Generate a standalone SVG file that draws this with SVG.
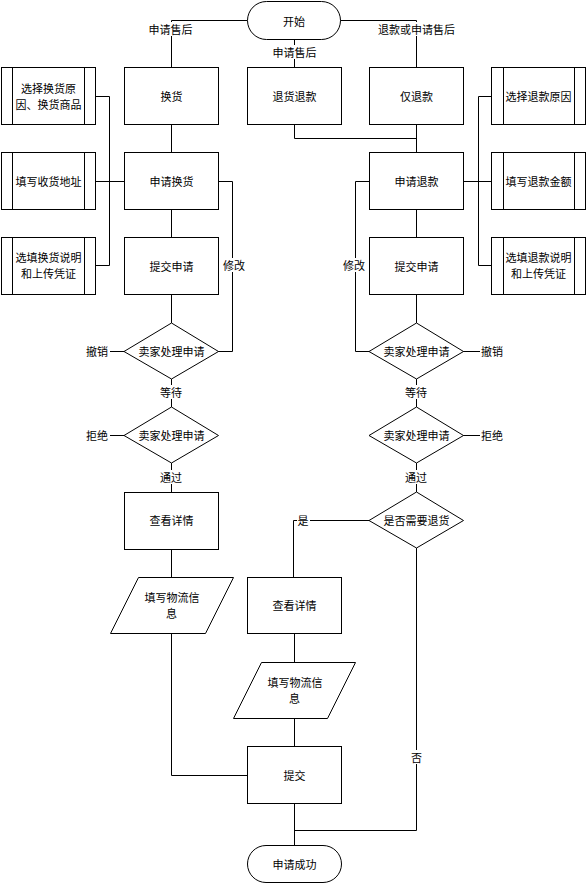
<svg xmlns="http://www.w3.org/2000/svg" width="587" height="884" viewBox="0 0 587 884">
<style>
.s{fill:#fff;stroke:#000;stroke-width:1}
.c{fill:none;stroke:#000;stroke-width:1}
.t{font-family:"Noto Sans CJK SC","Liberation Sans",sans-serif;font-size:11px;fill:#000;text-anchor:middle;dominant-baseline:central}
.bg{fill:#fff}
</style>
<rect width="587" height="884" fill="#fff"/>
<g id="connectors">
<path class="c" d="M247.5,20.5H171.5V67"/>
<path class="c" d="M294.5,39V67"/>
<path class="c" d="M340,20.5H416.5V67"/>
<path class="c" d="M171.5,124V152"/>
<path class="c" d="M294.5,124V138.5H416.5"/>
<path class="c" d="M416.5,124V152"/>
<path class="c" d="M95,96.5H109.5V265.5H95M95,181.5H124"/>
<path class="c" d="M491,96.5H478.5V265.5H491M491,181.5H463"/>
<path class="c" d="M171.5,209V237"/>
<path class="c" d="M416.5,209V237"/>
<path class="c" d="M218,181.5H232.5V351.5H218"/>
<path class="c" d="M369,181.5H355.5V351.5H369"/>
<path class="c" d="M171.5,294V323"/>
<path class="c" d="M416.5,294V323"/>
<path class="c" d="M110,351.5H124"/>
<path class="c" d="M463,351.5H480"/>
<path class="c" d="M171.5,379V407"/>
<path class="c" d="M416.5,379V407"/>
<path class="c" d="M110,435.5H124"/>
<path class="c" d="M463,435.5H480"/>
<path class="c" d="M171.5,463V492"/>
<path class="c" d="M416.5,463V492"/>
<path class="c" d="M171.5,549V577"/>
<path class="c" d="M171.5,633V775.5H247"/>
<path class="c" d="M369,520.5H293.5V577"/>
<path class="c" d="M294.5,633V662"/>
<path class="c" d="M294.5,718V746"/>
<path class="c" d="M294.5,803V845"/>
<path class="c" d="M416.5,548V830.5H294.5"/>
<rect class="bg" x="148" y="22" width="45" height="14"/>
<text class="t" x="170.5" y="29">申请售后</text>
<rect class="bg" x="272" y="45" width="45" height="14"/>
<text class="t" x="294.5" y="52">申请售后</text>
<rect class="bg" x="377" y="22" width="79" height="14"/>
<text class="t" x="416.5" y="29">退款或申请售后</text>
<rect class="bg" x="222" y="258" width="24" height="14"/>
<text class="t" x="234" y="265">修改</text>
<rect class="bg" x="342" y="258" width="24" height="14"/>
<text class="t" x="354" y="265">修改</text>
<text class="t" x="97" y="351">撤销</text>
<text class="t" x="492" y="351">撤销</text>
<rect class="bg" x="159" y="385" width="24" height="14"/>
<text class="t" x="171" y="392">等待</text>
<rect class="bg" x="404" y="385" width="24" height="14"/>
<text class="t" x="416" y="392">等待</text>
<text class="t" x="97" y="435">拒绝</text>
<text class="t" x="492" y="435">拒绝</text>
<rect class="bg" x="159" y="470" width="24" height="14"/>
<text class="t" x="171" y="477">通过</text>
<rect class="bg" x="404" y="470" width="24" height="14"/>
<text class="t" x="416" y="477">通过</text>
<rect class="bg" x="297" y="513" width="13" height="14"/>
<text class="t" x="303" y="520">是</text>
<rect class="bg" x="410" y="750" width="13" height="14"/>
<text class="t" x="416.5" y="757">否</text>
</g>
<g id="start"><rect class="s" x="247.5" y="1.5" width="93" height="38" rx="19"/><text class="t" x="294" y="20.5">开始</text></g>
<g id="huanhuo"><rect class="s" x="124.5" y="67.5" width="94" height="57"/><text class="t" x="171.5" y="96">换货</text></g>
<g id="tuihuotuikuan"><rect class="s" x="247.5" y="67.5" width="94" height="57"/><text class="t" x="294.5" y="96">退货退款</text></g>
<g id="jintuikuan"><rect class="s" x="369.5" y="67.5" width="94" height="57"/><text class="t" x="416.5" y="96">仅退款</text></g>
<g id="l1"><rect class="s" x="1.5" y="67.5" width="94" height="57"/><path class="c" d="M12.5,67.5V124.5M84.5,67.5V124.5"/><text class="t" x="48.5" y="88">选择换货原</text><text class="t" x="48.5" y="104">因、换货商品</text></g>
<g id="l2"><rect class="s" x="1.5" y="152.5" width="94" height="57"/><path class="c" d="M12.5,152.5V209.5M84.5,152.5V209.5"/><text class="t" x="48.5" y="181">填写收货地址</text></g>
<g id="l3"><rect class="s" x="1.5" y="237.5" width="94" height="57"/><path class="c" d="M12.5,237.5V294.5M84.5,237.5V294.5"/><text class="t" x="48.5" y="257">选填换货说明</text><text class="t" x="48.5" y="273">和上传凭证</text></g>
<g id="r1"><rect class="s" x="491.5" y="67.5" width="94" height="57"/><path class="c" d="M503.5,67.5V124.5M574.5,67.5V124.5"/><text class="t" x="538.5" y="96">选择退款原因</text></g>
<g id="r2"><rect class="s" x="491.5" y="152.5" width="94" height="57"/><path class="c" d="M503.5,152.5V209.5M574.5,152.5V209.5"/><text class="t" x="538.5" y="181">填写退款金额</text></g>
<g id="r3"><rect class="s" x="491.5" y="237.5" width="94" height="57"/><path class="c" d="M503.5,237.5V294.5M574.5,237.5V294.5"/><text class="t" x="538.5" y="257">选填退款说明</text><text class="t" x="538.5" y="273">和上传凭证</text></g>
<g id="shenqinghuanhuo"><rect class="s" x="124.5" y="152.5" width="94" height="57"/><text class="t" x="171.5" y="181">申请换货</text></g>
<g id="shenqingtuikuan"><rect class="s" x="369.5" y="152.5" width="94" height="57"/><text class="t" x="416.5" y="181">申请退款</text></g>
<g id="tijiao1"><rect class="s" x="124.5" y="237.5" width="94" height="57"/><text class="t" x="171.5" y="266">提交申请</text></g>
<g id="tijiao2"><rect class="s" x="369.5" y="237.5" width="94" height="57"/><text class="t" x="416.5" y="266">提交申请</text></g>
<g id="d1l"><polygon class="s" points="171.5,323 218.5,351.5 171.5,379 124,351.5"/><text class="t" x="171.5" y="351">卖家处理申请</text></g>
<g id="d1r"><polygon class="s" points="416.5,323 463.5,351.5 416.5,379 369,351.5"/><text class="t" x="416.5" y="351">卖家处理申请</text></g>
<g id="d2l"><polygon class="s" points="171.5,407 218.5,435.5 171.5,463 124,435.5"/><text class="t" x="171.5" y="435">卖家处理申请</text></g>
<g id="d2r"><polygon class="s" points="416.5,407 463.5,435.5 416.5,463 369,435.5"/><text class="t" x="416.5" y="435">卖家处理申请</text></g>
<g id="d3"><polygon class="s" points="416.5,492 463.5,520.5 416.5,548 369,520.5"/><text class="t" x="416.5" y="520">是否需要退货</text></g>
<g id="chakan1"><rect class="s" x="124.5" y="492.5" width="94" height="57"/><text class="t" x="171.5" y="520">查看详情</text></g>
<g id="wuliu1"><polygon class="s" points="138.5,577.5 233.5,577.5 205.5,633.5 110.5,633.5"/><text class="t" x="172" y="597">填写物流信</text><text class="t" x="171.5" y="613">息</text></g>
<g id="chakan2"><rect class="s" x="247.5" y="577.5" width="94" height="56"/><text class="t" x="294.5" y="605">查看详情</text></g>
<g id="wuliu2"><polygon class="s" points="261.5,662.5 355.5,662.5 327.5,718.5 233.5,718.5"/><text class="t" x="295" y="682">填写物流信</text><text class="t" x="294.5" y="698">息</text></g>
<g id="tijiao"><rect class="s" x="247.5" y="746.5" width="94" height="57"/><text class="t" x="294.5" y="775">提交</text></g>
<g id="success"><rect class="s" x="247.5" y="845.5" width="94" height="37" rx="18.5"/><text class="t" x="294.5" y="864">申请成功</text></g>
</svg>
